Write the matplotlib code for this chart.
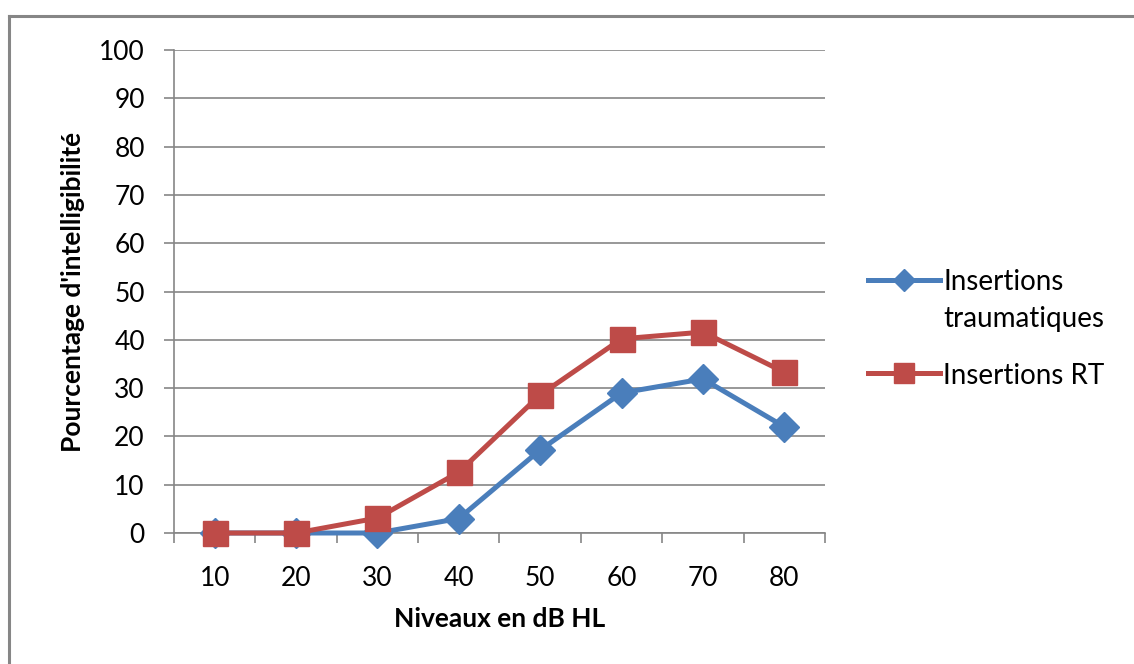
import matplotlib.pyplot as plt
from matplotlib.lines import Line2D

# Data
levels = ['10', '20', '30', '40', '50', '60', '70', '80']
traumatiques = [0, 0, 0, 3, 17.2, 29, 31.9, 22]
rt = [0, 0, 3.1, 12.6, 28.6, 40.2, 41.6, 33.3]
series_names = [['Insertions', 'traumatiques'], ['Insertions RT']]

BLUE = '#4A7EBB'
RED = '#BE4B48'
GRID = '#868686'

plt.rcParams['font.family'] = ['Lato', 'DejaVu Sans']

fig = plt.figure(figsize=(11.34, 6.64), dpi=100)
ax = fig.add_axes([174 / 1134, 131 / 664, 651 / 1134, 483 / 664])

x = list(range(1, len(levels) + 1))
ax.plot(x, traumatiques, color=BLUE, lw=3.6, marker='D', ms=15,
        clip_on=False, zorder=3)
ax.plot(x, rt, color=RED, lw=3.6, marker='s', ms=18,
        clip_on=False, zorder=4)

ax.set_xlim(0.5, len(levels) + 0.5)
ax.set_ylim(0, 100)
ax.set_yticks(range(0, 101, 10))
ax.tick_params(axis='y', labelsize=19, length=7, color=GRID, width=1.2, pad=14)

# category axis: tick marks on boundaries, labels on centres
ax.set_xticks([i + 0.5 for i in range(0, len(levels) + 1)])
ax.set_xticklabels([])
ax.set_xticks(x, minor=True)
ax.set_xticklabels(levels, minor=True)
ax.tick_params(axis='x', which='major', length=7, color=GRID, width=1.2)
ax.tick_params(axis='x', which='minor', length=0, labelsize=19, pad=24)

ax.grid(axis='y', color=GRID, lw=1.2)
ax.set_axisbelow(True)
for side in ['top', 'right']:
    ax.spines[side].set_visible(False)
for side in ['left', 'bottom']:
    ax.spines[side].set_color(GRID)
    ax.spines[side].set_linewidth(1.2)

ax.set_xlabel('Niveaux en dB HL', fontsize=19, fontweight='bold', labelpad=11)
ax.set_ylabel("Pourcentage d'intelligibilité", fontsize=19, fontweight='bold', labelpad=10)

# legend, handle aligned with the first text line (Excel style)
W, H = 1134, 664
entries = [(BLUE, 'D', 11, 280), (RED, 's', 14, 373)]
for (col, mk, ms, yp), lines in zip(entries, series_names):
    fy = 1 - yp / H
    fig.add_artist(Line2D([868 / W, 940 / W], [fy, fy], color=col, lw=3.6))
    fig.add_artist(Line2D([904 / W], [fy], color=col, marker=mk, ms=ms, lw=0))
    for k, s in enumerate(lines):
        fig.text(943 / W, 1 - (yp + 37 * k) / H, s, fontsize=20,
                 va='center_baseline', ha='left')

# outer chart frame
fig.add_artist(Line2D([9 / W, 1.0], [1 - 16 / H] * 2, color=GRID, lw=2.2))
fig.add_artist(Line2D([9 / W] * 2, [0.0, 1 - 16 / H], color=GRID, lw=2.2))

fig.savefig('out.png', dpi=100)
